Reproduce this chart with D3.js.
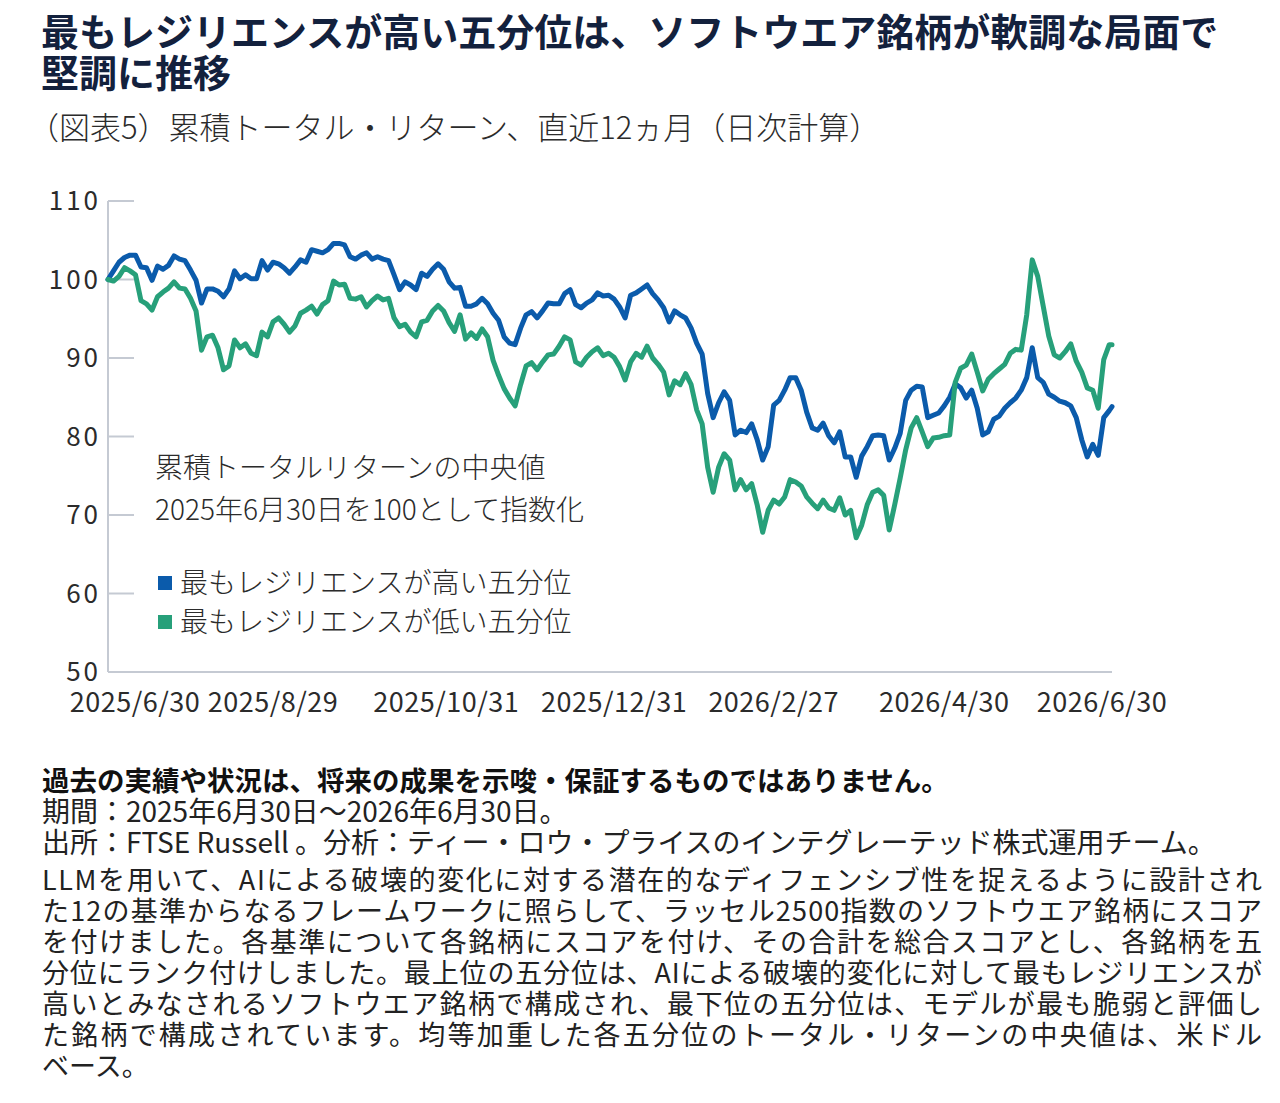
<!DOCTYPE html>
<html lang="ja">
<head>
<meta charset="utf-8">
<script src="https://cdn.jsdelivr.net/npm/d3@7"></script>
<style>
  body { margin: 0; background: #fff; }
  svg text { font-family: "Noto Sans CJK JP", "Noto Sans", sans-serif; }
</style>
</head>
<body>
<div id="chart"></div>
<script>
////////////// DATA //////////////

const titleLines = [
    "最もレジリエンスが高い五分位は、ソフトウエア銘柄が軟調な局面で",
    "堅調に推移"
];
const subtitle = "（図表5）累積トータル・リターン、直近12ヵ月（日次計算）";

const startDate = "2025-06-30";
// sample every 2 calendar days from the start, plus the last day
const sampleDays = d3.range(0, 365, 2).concat([365]);

const highValues = [
    100.0, 101.1, 102.2, 102.8, 103.1, 103.1, 101.6, 101.5, 99.9, 101.7,
    101.3, 101.8, 103.0, 102.6, 102.4, 101.2, 99.9, 97.0, 98.8, 98.8,
    98.5, 97.8, 98.8, 101.1, 100.1, 100.6, 100.1, 100.1, 102.4, 101.2,
    102.2, 102.0, 101.5, 100.8, 101.6, 102.5, 102.2, 103.8, 103.6, 103.4,
    103.8, 104.6, 104.6, 104.4, 102.9, 102.6, 103.1, 103.4, 102.6, 102.9,
    102.6, 102.4, 100.6, 98.7, 99.7, 99.3, 98.7, 100.8, 100.4, 101.3,
    102.0, 101.3, 99.7, 98.9, 99.0, 96.6, 96.6, 96.9, 97.6, 96.9,
    95.7, 94.8, 92.7, 91.9, 91.7, 93.8, 95.5, 95.9, 95.1, 96.0,
    97.0, 96.9, 96.9, 98.2, 98.7, 96.8, 96.4, 97.0, 97.4, 98.3,
    97.9, 98.0, 97.5, 96.5, 95.1, 98.0, 98.3, 98.8, 99.3, 98.2,
    97.4, 96.4, 94.6, 96.0, 95.5, 95.1, 93.8, 91.9, 90.5, 85.5,
    82.4, 84.3, 85.7, 84.6, 80.2, 80.8, 80.5, 81.6, 79.6, 77.0,
    78.7, 84.0, 84.6, 85.9, 87.5, 87.5, 85.9, 83.1, 81.1, 80.8,
    81.7, 80.1, 79.2, 80.6, 77.4, 77.4, 74.8, 77.5, 78.7, 80.1,
    80.2, 80.1, 77.0, 78.5, 80.4, 84.6, 85.9, 86.4, 86.3, 82.4,
    82.7, 83.0, 83.9, 85.0, 86.7, 86.2, 84.9, 85.9, 83.6, 80.2,
    80.6, 82.2, 82.6, 83.6, 84.3, 84.9, 85.9, 87.5, 91.3, 87.5,
    86.9, 85.4, 85.0, 84.5, 84.3, 83.9, 82.4, 79.6, 77.4, 79.0,
    77.6, 82.4, 83.3, 83.8
];

const lowValues = [
    100.0, 99.8, 100.4, 101.5, 101.1, 100.6, 97.3, 96.9, 96.1, 97.8,
    98.4, 98.9, 99.7, 98.9, 98.8, 97.6, 96.0, 91.0, 92.7, 92.9,
    91.3, 88.5, 89.0, 92.3, 91.3, 91.8, 90.6, 90.3, 93.3, 92.7,
    94.6, 95.1, 94.3, 93.3, 94.1, 95.7, 96.1, 96.6, 95.6, 96.8,
    97.3, 99.8, 99.3, 99.4, 97.6, 97.5, 97.8, 96.5, 97.3, 97.9,
    97.4, 97.6, 95.1, 94.0, 94.3, 93.3, 92.7, 94.6, 94.8, 96.0,
    96.7, 96.0, 94.5, 93.4, 95.5, 92.4, 93.2, 92.5, 93.7, 92.7,
    89.7, 87.8, 86.1, 84.9, 83.9, 86.6, 89.0, 89.4, 88.5, 89.5,
    90.4, 90.5, 91.5, 92.7, 92.3, 89.5, 89.1, 90.1, 90.8, 91.3,
    90.3, 90.6, 90.1, 88.9, 87.2, 89.5, 90.6, 90.1, 91.5, 90.0,
    89.2, 88.2, 85.3, 87.1, 86.6, 88.0, 86.6, 83.4, 81.6, 76.1,
    72.9, 76.1, 77.8, 77.0, 73.2, 74.5, 73.2, 74.0, 71.3, 67.8,
    70.6, 71.9, 71.4, 72.3, 74.5, 74.2, 73.7, 72.3, 71.5, 70.8,
    71.9, 70.9, 70.6, 72.2, 70.0, 70.6, 67.1, 68.7, 71.3, 72.9,
    73.2, 72.5, 68.1, 71.3, 74.7, 78.3, 81.1, 82.4, 80.6, 78.7,
    79.8, 79.9, 80.1, 80.2, 86.9, 88.7, 89.1, 90.5, 88.2, 85.8,
    87.3, 88.0, 88.6, 89.2, 90.6, 91.1, 91.0, 95.5, 102.5, 100.4,
    96.6, 92.8, 90.4, 90.0, 90.8, 91.8, 89.6, 88.2, 86.2, 85.9,
    83.6, 89.8, 91.7, 91.7
];

const yTicks = [50, 60, 70, 80, 90, 100, 110];
const xTickLabels = ["2025/6/30", "2025/8/29", "2025/10/31", "2025/12/31", "2026/2/27", "2026/4/30", "2026/6/30"];

const seriesNames = ["最もレジリエンスが高い五分位", "最もレジリエンスが低い五分位"];
const seriesColors = ["#0b5bab", "#27a07a"];

const noteLines = [
    "累積トータルリターンの中央値",
    "2025年6月30日を100として指数化"
];

const disclaimer = "過去の実績や状況は、将来の成果を示唆・保証するものではありません。";
const footLines = [
    "期間：2025年6月30日～2026年6月30日。",
    "出所：FTSE Russell 。分析：ティー・ロウ・プライスのインテグレーテッド株式運用チーム。"
];
const paragraphLines = [
    "LLMを用いて、AIによる破壊的変化に対する潜在的なディフェンシブ性を捉えるように設計され",
    "た12の基準からなるフレームワークに照らして、ラッセル2500指数のソフトウエア銘柄にスコア",
    "を付けました。各基準について各銘柄にスコアを付け、その合計を総合スコアとし、各銘柄を五",
    "分位にランク付けしました。最上位の五分位は、AIによる破壊的変化に対して最もレジリエンスが",
    "高いとみなされるソフトウエア銘柄で構成され、最下位の五分位は、モデルが最も脆弱と評価し",
    "た銘柄で構成されています。均等加重した各五分位のトータル・リターンの中央値は、米ドル",
    "ベース。"
];

////////////// CHART //////////////

const width = 1280;
const height = 1103;

const svg = d3.select("#chart").append("svg")
    .attr("width", width)
    .attr("height", height)
    .attr("viewBox", `0 0 ${width} ${height}`)
    .style("background", "#fff");

// titles
svg.append("g")
    .selectAll("text")
    .data(titleLines)
    .enter()
    .append("text")
    .attr("x", 41)
    .attr("y", (d, i) => 46 + i * 41)
    .style("font-size", "38px")
    .style("font-weight", 700)
    .style("fill", "#13213d")
    .text(d => d);

svg.append("text")
    .attr("x", 28)
    .attr("y", 139)
    .style("font-size", "31px")
    .style("font-weight", 300)
    .style("fill", "#2b2b2b")
    .text(subtitle);

const parseDay = d3.timeParse("%Y-%m-%d");
const parseLabel = d3.timeParse("%Y/%m/%d");
const start = parseDay(startDate);
const dates = sampleDays.map(d => d3.timeDay.offset(start, d));

const x = d3.scaleTime()
    .domain([start, d3.timeDay.offset(start, 365)])
    .range([108, 1112]);

const y = d3.scaleLinear()
    .domain([50, 110])
    .range([672, 201]);

const axisColor = "#c5cad3";

// axis lines
svg.append("line")
    .attr("x1", x.range()[0]).attr("x2", x.range()[0])
    .attr("y1", y(110)).attr("y2", y(50))
    .style("stroke", axisColor)
    .style("stroke-width", 2);

svg.append("line")
    .attr("x1", x.range()[0]).attr("x2", x.range()[1])
    .attr("y1", y(50)).attr("y2", y(50))
    .style("stroke", axisColor)
    .style("stroke-width", 2);

// y ticks (drawn inward) and labels
const yAxisG = svg.append("g");
yAxisG.selectAll("line")
    .data(yTicks)
    .enter()
    .append("line")
    .attr("x1", x.range()[0])
    .attr("x2", x.range()[0] + 26)
    .attr("y1", d => y(d))
    .attr("y2", d => y(d))
    .style("stroke", axisColor)
    .style("stroke-width", 2);

yAxisG.selectAll("text")
    .data(yTicks)
    .enter()
    .append("text")
    .attr("x", 101)
    .attr("y", d => y(d))
    .attr("dy", ".36em")
    .style("text-anchor", "end")
    .style("font-size", "26px")
    .style("letter-spacing", "3px")
    .style("fill", "#2b2b2b")
    .text(d => d);

// x labels, kept inside the plot ends like the original
svg.append("g")
    .selectAll("text")
    .data(xTickLabels)
    .enter()
    .append("text")
    .attr("x", function (d) {
        const px = x(parseLabel(d));
        return Math.min(Math.max(px, x.range()[0] + 27), x.range()[1] - 10);
    })
    .attr("y", 712)
    .style("text-anchor", "middle")
    .style("font-size", "27px")
    .style("letter-spacing", "0.5px")
    .style("fill", "#2b2b2b")
    .text(d => d);

// lines
const line = d3.line()
    .x((d, i) => x(dates[i]))
    .y(d => y(d));

[highValues, lowValues].forEach(function (values, k) {
    svg.append("path")
        .datum(values)
        .attr("d", line)
        .style("fill", "none")
        .style("stroke", seriesColors[k])
        .style("stroke-width", 5)
        .style("stroke-linejoin", "round")
        .style("stroke-linecap", "round");
});

// annotation
svg.append("g")
    .selectAll("text")
    .data(noteLines)
    .enter()
    .append("text")
    .attr("x", 155)
    .attr("y", (d, i) => 478 + i * 42)
    .style("font-size", "28px")
    .style("font-weight", 300)
    .style("fill", "#2b2b2b")
    .text(d => d);

// legend
const legend = svg.append("g")
    .selectAll("g")
    .data(seriesNames)
    .enter()
    .append("g")
    .attr("transform", (d, i) => `translate(158, ${583 + i * 39})`);

legend.append("rect")
    .attr("x", 0)
    .attr("y", -7)
    .attr("width", 14)
    .attr("height", 14)
    .style("fill", (d, i) => seriesColors[i]);

legend.append("text")
    .attr("x", 22)
    .attr("y", 0)
    .attr("dy", ".36em")
    .style("font-size", "28px")
    .style("font-weight", 300)
    .style("fill", "#2b2b2b")
    .text(d => d);

// footnotes
svg.append("text")
    .attr("x", 42)
    .attr("y", 791)
    .style("font-size", "27.5px")
    .style("font-weight", 700)
    .style("fill", "#111")
    .text(disclaimer);

svg.append("g")
    .selectAll("text")
    .data(footLines)
    .enter()
    .append("text")
    .attr("x", 42)
    .attr("y", (d, i) => 822 + i * 31)
    .style("font-size", "28px")
    .style("fill", "#222")
    .text(d => d);

svg.append("g")
    .selectAll("text")
    .data(paragraphLines)
    .enter()
    .append("text")
    .attr("x", 42)
    .attr("y", (d, i) => 890 + i * 31)
    .attr("textLength", (d, i) => i < paragraphLines.length - 1 ? 1220 : null)
    .attr("lengthAdjust", "spacing")
    .style("font-size", "27px")
    .style("fill", "#222")
    .text(d => d);
</script>
</body>
</html>
